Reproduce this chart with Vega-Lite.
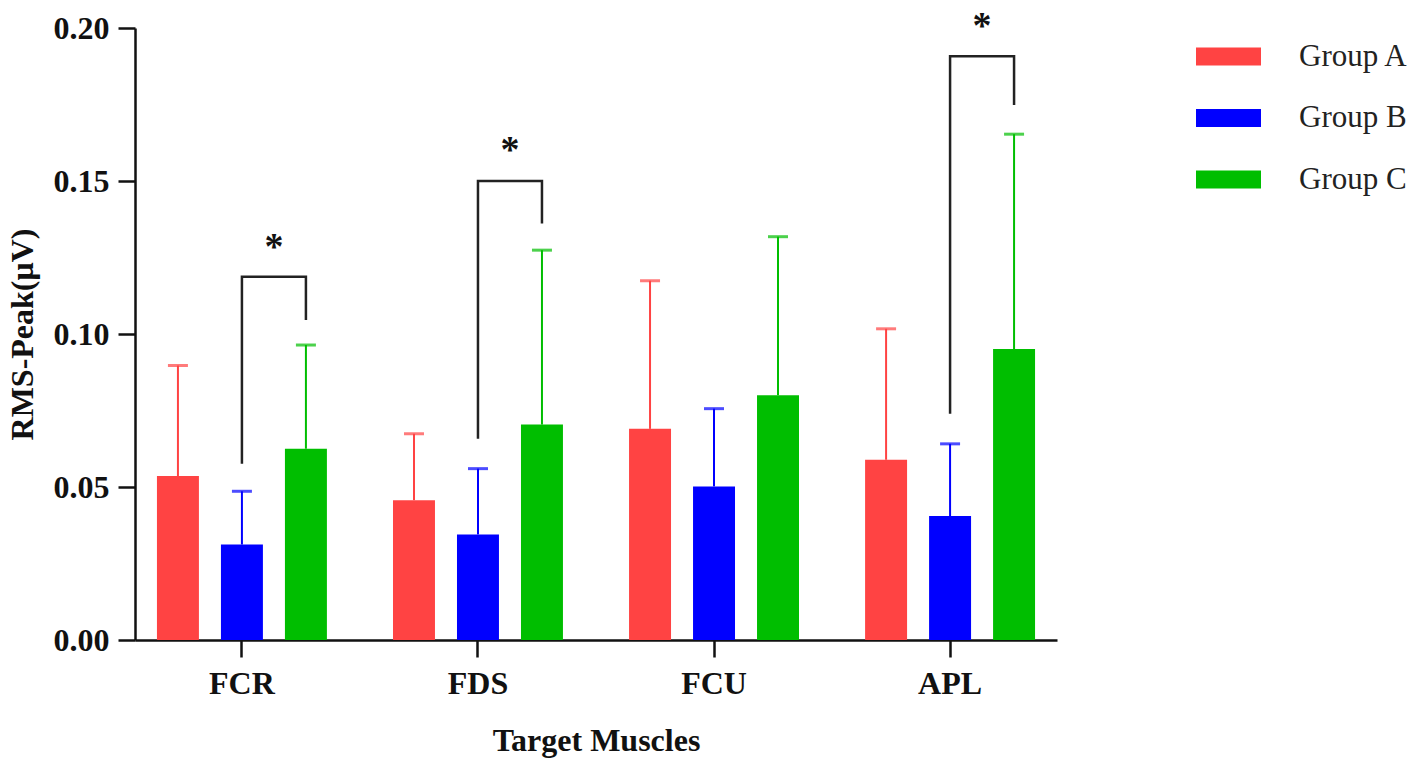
{
  "$schema": "https://vega.github.io/schema/vega-lite/v6.json",
  "autosize": "none",
  "width": 922,
  "height": 612,
  "padding": {"left": 135, "top": 28, "right": 361, "bottom": 131},
  "background": "white",
  "config": {
    "view": {"stroke": null},
    "font": "Liberation Serif",
    "axis": {
      "labelFont": "Liberation Serif",
      "labelFontSize": 32,
      "labelFontWeight": "bold",
      "labelColor": "#111",
      "titleFont": "Liberation Serif",
      "titleFontSize": 32,
      "titleFontWeight": "bold",
      "titleColor": "#111",
      "domainColor": "#111",
      "domainWidth": 2.5,
      "tickColor": "#111",
      "tickWidth": 2.5,
      "tickSize": 17,
      "grid": false
    },
    "legend": {
      "orient": "none",
      "legendX": 1061,
      "legendY": -4,
      "padding": 0,
      "symbolType": "M-1,-0.28L1,-0.28L1,0.28L-1,0.28Z",
      "symbolSize": 4225,
      "symbolStrokeWidth": 0,
      "labelFont": "Liberation Serif",
      "labelFontSize": 31,
      "labelColor": "#222",
      "labelOffset": 38,
      "rowPadding": 13.5
    }
  },
  "datasets": {
    "bars": [
      {"muscle": "FCR", "group": "Group A", "mean": 0.0536, "upper": 0.0897},
      {"muscle": "FCR", "group": "Group B", "mean": 0.0312, "upper": 0.0486},
      {"muscle": "FCR", "group": "Group C", "mean": 0.0625, "upper": 0.0964},
      {"muscle": "FDS", "group": "Group A", "mean": 0.0457, "upper": 0.0674},
      {"muscle": "FDS", "group": "Group B", "mean": 0.0345, "upper": 0.056},
      {"muscle": "FDS", "group": "Group C", "mean": 0.0704, "upper": 0.1274},
      {"muscle": "FCU", "group": "Group A", "mean": 0.069, "upper": 0.1174},
      {"muscle": "FCU", "group": "Group B", "mean": 0.0502, "upper": 0.0756},
      {"muscle": "FCU", "group": "Group C", "mean": 0.08, "upper": 0.1318},
      {"muscle": "APL", "group": "Group A", "mean": 0.0589, "upper": 0.1017},
      {"muscle": "APL", "group": "Group B", "mean": 0.0405, "upper": 0.0641},
      {"muscle": "APL", "group": "Group C", "mean": 0.0951, "upper": 0.1653}
    ],
    "brackets": [
      {"muscle": "FCR", "group": "Group B", "y": 0.0576, "ord": 1},
      {"muscle": "FCR", "group": "Group B", "y": 0.1187, "ord": 2},
      {"muscle": "FCR", "group": "Group C", "y": 0.1187, "ord": 3},
      {"muscle": "FCR", "group": "Group C", "y": 0.1046, "ord": 4},
      {"muscle": "FDS", "group": "Group B", "y": 0.0658, "ord": 1},
      {"muscle": "FDS", "group": "Group B", "y": 0.15, "ord": 2},
      {"muscle": "FDS", "group": "Group C", "y": 0.15, "ord": 3},
      {"muscle": "FDS", "group": "Group C", "y": 0.1361, "ord": 4},
      {"muscle": "APL", "group": "Group B", "y": 0.0739, "ord": 1},
      {"muscle": "APL", "group": "Group B", "y": 0.1908, "ord": 2},
      {"muscle": "APL", "group": "Group C", "y": 0.1908, "ord": 3},
      {"muscle": "APL", "group": "Group C", "y": 0.1748, "ord": 4}
    ],
    "stars": [
      {"muscle": "FCR", "group": "Group B", "y": 0.1294, "label": "*"},
      {"muscle": "FDS", "group": "Group B", "y": 0.161, "label": "*"},
      {"muscle": "APL", "group": "Group B", "y": 0.2017, "label": "*"}
    ]
  },
  "encoding": {
    "x": {
      "field": "muscle",
      "type": "nominal",
      "sort": ["FCR", "FDS", "FCU", "APL"],
      "scale": {"domain": ["FCR", "FDS", "FCU", "APL"], "paddingInner": 0.28, "paddingOuter": 0.093},
      "axis": {"labelAngle": 0, "labelPadding": 11, "title": "Target Muscles", "titlePadding": 26}
    },
    "xOffset": {
      "field": "group",
      "type": "nominal",
      "scale": {"domain": ["Group A", "Group B", "Group C"], "paddingInner": 0.344, "paddingOuter": 0}
    }
  },
  "layer": [
    {
      "data": {"name": "bars"},
      "mark": {"type": "bar"},
      "encoding": {
        "y": {
          "field": "mean",
          "type": "quantitative",
          "scale": {"domain": [0, 0.2], "nice": false},
          "axis": {"values": [0, 0.05, 0.1, 0.15, 0.2], "format": ".2f", "labelPadding": 9, "title": "RMS-Peak(μV)", "titlePadding": 14}
        },
        "color": {
          "field": "group",
          "type": "nominal",
          "scale": {"domain": ["Group A", "Group B", "Group C"], "range": ["#FF4343", "#0000FF", "#00BE00"]},
          "legend": {"title": null}
        }
      }
    },
    {
      "data": {"name": "bars"},
      "mark": {"type": "rule", "strokeWidth": 2},
      "encoding": {
        "y": {"field": "mean", "type": "quantitative"},
        "y2": {"field": "upper"},
        "color": {"field": "group", "type": "nominal", "legend": null}
      }
    },
    {
      "data": {"name": "bars"},
      "mark": {"type": "tick", "size": 20, "thickness": 3},
      "encoding": {
        "y": {"field": "upper", "type": "quantitative"},
        "color": {"field": "group", "type": "nominal", "legend": null}
      }
    },
    {
      "data": {"name": "brackets"},
      "mark": {"type": "line", "color": "#222", "strokeWidth": 2.5},
      "encoding": {
        "y": {"field": "y", "type": "quantitative"},
        "detail": {"field": "muscle"},
        "order": {"field": "ord"}
      }
    },
    {
      "data": {"name": "stars"},
      "mark": {"type": "text", "dx": 32, "dy": 4, "baseline": "middle", "fontSize": 38, "fontWeight": "bold", "color": "#111"},
      "encoding": {
        "y": {"field": "y", "type": "quantitative"},
        "text": {"field": "label"}
      }
    }
  ]
}
